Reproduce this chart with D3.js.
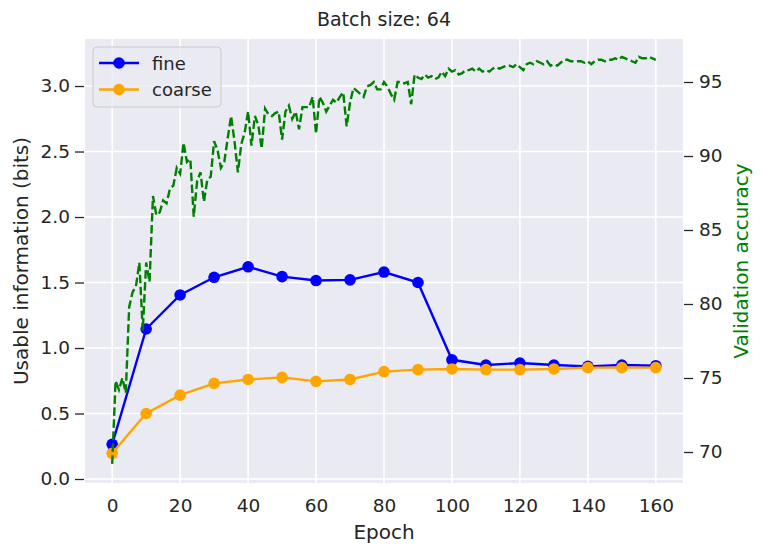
<!DOCTYPE html>
<html>
<head>
<meta charset="utf-8">
<script src="https://cdn.jsdelivr.net/npm/d3@7"></script>
<style>
  body { margin: 0; background: #fff; }
  text { font-family: "DejaVu Sans", sans-serif; fill: #262626; }
</style>
</head>
<body>
<div id="chart"></div>
<script>
// data
var epochs = [0, 10, 20, 30, 40, 50, 60, 70, 80, 90, 100, 110, 120, 130, 140, 150, 160];
var fine   = [0.265, 1.145, 1.405, 1.54, 1.62, 1.545, 1.515, 1.52, 1.58, 1.50, 0.91, 0.87, 0.885, 0.87, 0.86, 0.87, 0.865];
var coarse = [0.196, 0.50, 0.64, 0.73, 0.76, 0.776, 0.745, 0.76, 0.82, 0.835, 0.84, 0.835, 0.835, 0.84, 0.85, 0.85, 0.85];
// validation accuracy, one value per epoch 0..160
var accuracy = [
  69.2, 74.8, 74.2, 75.0, 74.0, 79.8, 80.8, 81.2, 82.8, 78.2,
  82.8, 81.5, 87.3, 86.0, 86.2, 87.0, 86.8, 87.8, 88.0, 89.2,
  88.8, 90.9, 89.6, 89.8, 85.9, 88.3, 88.9, 86.9, 88.4, 88.6,
  91.0, 90.4, 89.2, 89.6, 91.2, 92.7, 91.0, 88.9, 90.8, 91.6,
  93.0, 90.7, 92.7, 92.1, 90.5, 93.2, 92.8, 92.7, 92.9, 93.0,
  91.1, 93.0, 93.4, 92.5, 93.0, 91.8, 93.3, 93.3, 93.3, 94.0,
  91.5, 94.0, 93.6, 93.0, 93.4, 93.8, 93.6, 94.0, 94.3, 92.0,
  93.6, 94.6, 94.4, 94.2, 94.0, 94.7, 94.8, 95.0, 94.5, 94.5,
  95.0, 94.7, 94.2, 93.8, 95.0, 95.0, 94.9, 95.0, 93.5, 95.5,
  95.3, 95.2, 95.5, 95.3, 95.4, 95.2, 95.3, 95.7, 95.4, 95.9,
  95.7, 95.8, 95.5, 95.6, 95.8, 95.8, 95.9, 95.7, 95.9, 95.7,
  95.8, 95.7, 95.9, 96.0, 95.9, 96.0, 96.1, 96.1, 96.0, 96.2,
  96.0, 95.8, 96.2, 96.3, 96.2, 96.4, 96.3, 96.2, 96.4, 96.1,
  96.2, 96.1, 96.3, 96.5, 96.5, 96.4, 96.4, 96.4, 96.4, 96.3,
  96.4, 96.2, 96.4, 96.5, 96.5, 96.4, 96.5, 96.5, 96.6, 96.5,
  96.7, 96.6, 96.5, 96.4, 96.3, 96.7, 96.6, 96.6, 96.7, 96.6,
  96.5
];
var xTicks = [0, 20, 40, 60, 80, 100, 120, 140, 160];
var leftTicks = [0.0, 0.5, 1.0, 1.5, 2.0, 2.5, 3.0];
var rightTicks = [70, 75, 80, 85, 90, 95];

var W = 762, H = 557;
var plotL = 85, plotR = 683, plotT = 39, plotB = 483;

var svg = d3.select("#chart").append("svg")
    .attr("width", W)
    .attr("height", H);

var x  = d3.scaleLinear().domain([-8, 168]).range([plotL, plotR]);
var yL = d3.scaleLinear().domain([-0.0305, 3.359]).range([plotB, plotT]);
var yR = d3.scaleLinear().domain([67.905, 97.905]).range([plotB, plotT]);

// plot background
svg.append("rect")
    .attr("x", plotL).attr("y", plotT)
    .attr("width", plotR - plotL).attr("height", plotB - plotT)
    .attr("fill", "#EAEAF2");

// grid
svg.append("g").selectAll("line").data(xTicks).enter().append("line")
    .attr("x1", d => x(d)).attr("x2", d => x(d))
    .attr("y1", plotT).attr("y2", plotB)
    .attr("stroke", "#fff").attr("stroke-width", 1.6);
svg.append("g").selectAll("line").data(leftTicks).enter().append("line")
    .attr("x1", plotL).attr("x2", plotR)
    .attr("y1", d => yL(d)).attr("y2", d => yL(d))
    .attr("stroke", "#fff").attr("stroke-width", 1.6);

// axes
var xAxis = svg.append("g")
    .attr("transform", "translate(0," + plotB + ")")
    .call(d3.axisBottom(x).tickValues(xTicks).tickFormat(d3.format("d")).tickSize(0).tickPadding(16));
var lAxis = svg.append("g")
    .attr("transform", "translate(" + (plotL - 1) + ",0)")
    .call(d3.axisLeft(yL).tickValues(leftTicks).tickFormat(d3.format(".1f")).tickSize(9).tickPadding(5));
var rAxis = svg.append("g")
    .attr("transform", "translate(" + (plotR + 1) + ",0)")
    .call(d3.axisRight(yR).tickValues(rightTicks).tickFormat(d3.format("d")).tickSize(9).tickPadding(6));

[xAxis, lAxis, rAxis].forEach(function(g) {
  g.select(".domain").remove();
  g.selectAll(".tick line").attr("stroke", "#262626").attr("stroke-width", 1.3);
  g.selectAll(".tick text")
      .attr("fill", "#262626")
      .style("font-size", "18.5px")
      .style("font-family", "DejaVu Sans, sans-serif");
});

// fine / coarse lines
var lineL = d3.line()
    .x((d, i) => x(epochs[i]))
    .y(d => yL(d));

var series = [
  { name: "fine",   values: fine,   color: "blue" },
  { name: "coarse", values: coarse, color: "orange" }
];

series.forEach(function(s) {
  svg.append("path")
      .datum(s.values)
      .attr("fill", "none")
      .attr("stroke", s.color)
      .attr("stroke-width", 2.4)
      .attr("d", lineL);
  svg.append("g").selectAll("circle").data(s.values).enter().append("circle")
      .attr("cx", (d, i) => x(epochs[i]))
      .attr("cy", d => yL(d))
      .attr("r", 5.8)
      .attr("fill", s.color);
});

// validation accuracy (twin axis, drawn on top)
var lineR = d3.line()
    .x((d, i) => x(i))
    .y(d => yR(d));

svg.append("path")
    .datum(accuracy)
    .attr("fill", "none")
    .attr("stroke", "green")
    .attr("stroke-width", 2.4)
    .attr("stroke-dasharray", "8.5,3.5")
    .attr("d", lineR);

// legend
var legend = svg.append("g");
legend.append("rect")
    .attr("x", 93).attr("y", 47)
    .attr("width", 128).attr("height", 60)
    .attr("rx", 4)
    .attr("fill", "#EAEAF2").attr("fill-opacity", 0.8)
    .attr("stroke", "#cccccc").attr("stroke-width", 1);

series.forEach(function(s, i) {
  var ly = 63 + i * 26.5;
  legend.append("line")
      .attr("x1", 99).attr("x2", 139)
      .attr("y1", ly).attr("y2", ly)
      .attr("stroke", s.color).attr("stroke-width", 2.4);
  legend.append("circle")
      .attr("cx", 119).attr("cy", ly).attr("r", 5.8)
      .attr("fill", s.color);
  legend.append("text")
      .attr("x", 152).attr("y", ly + 6.5)
      .style("font-size", "18px")
      .text(s.name);
});

// titles
svg.append("text")
    .attr("x", (plotL + plotR) / 2).attr("y", 26)
    .attr("text-anchor", "middle")
    .style("font-size", "19px")
    .text("Batch size: 64");

svg.append("text")
    .attr("x", (plotL + plotR) / 2).attr("y", 539)
    .attr("text-anchor", "middle")
    .style("font-size", "20px")
    .text("Epoch");

svg.append("text")
    .attr("transform", "translate(28," + (plotT + plotB) / 2 + ") rotate(-90)")
    .attr("text-anchor", "middle")
    .style("font-size", "20px")
    .text("Usable information (bits)");

svg.append("text")
    .attr("transform", "translate(748," + (plotT + plotB) / 2 + ") rotate(-90)")
    .attr("text-anchor", "middle")
    .style("font-size", "20px")
    .style("fill", "green")
    .text("Validation accuracy");
</script>
</body>
</html>
